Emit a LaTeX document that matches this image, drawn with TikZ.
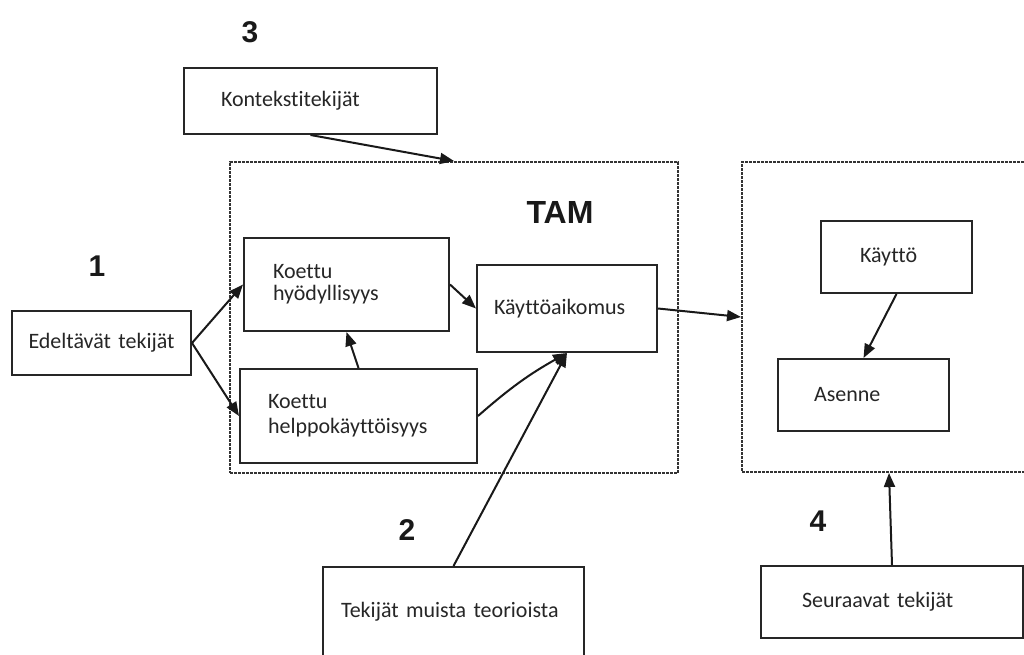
\documentclass[tikz,border=0pt]{standalone}
\usepackage{fontspec}
\setmainfont{Carlito}[Ligatures=CommonOff]
\newfontfamily\headfont{Liberation Sans}
\usetikzlibrary{arrows.meta}
\begin{document}
\begin{tikzpicture}[x=1pt,y=-1pt,
  box/.style={draw=black!85, line width=2pt, rectangle, align=left,
    font=\fontsize{22}{22}\selectfont, text=black!85, inner ysep=0pt},
  frame/.style={draw=black!80, line width=2pt, dash pattern=on 3pt off 1pt,
    rectangle, inner sep=0pt},
  arr/.style={draw=black!90, line width=2pt, -{Triangle[length=14pt,width=11pt]}},
  num/.style={font=\headfont\bfseries\fontsize{30}{30}\selectfont, text=black!90},
]
\useasboundingbox (0,0) rectangle (1024,655);

% dotted frames
\node[frame, minimum width=448pt, minimum height=311pt] (tam) at (454,317.5) {};
\node[frame, minimum width=294pt, minimum height=310pt] (sec) at (889,317) {};
\node[font=\headfont\bfseries\fontsize{32}{32}\selectfont, text=black!90] (tamlabel) at (560,212) {TAM};

% numbers
\node[num] (n3) at (250,32) {3};
\node[num] (n1) at (97,266) {1};
\node[num] (n2) at (407,530) {2};
\node[num] (n4) at (818,521) {4};

% boxes
\node[box, text width=179pt, inner xsep=37pt, minimum height=66pt] (kont) at (310.5,101) {Kontekstitekijät};
\node[box, text width=179pt, inner xsep=0pt, align=center, minimum height=64pt] (edel) at (101.5,343) {Edeltävät tekijät};
\node[box, text width=147pt, inner xsep=29pt, minimum height=93pt] (hyod) at (346.5,284.5) {Koettu\\hyödyllisyys};
\node[box, text width=146pt, inner xsep=17pt, minimum height=87pt] (kay) at (567,308.5) {Käyttöaikomus};
\node[box, text width=181pt, inner xsep=28pt, minimum height=94pt, font=\fontsize{22}{25}\selectfont] (helppo) at (358.5,416) {Koettu\\helppokäyttöisyys};
\node[box, text width=73pt, inner xsep=39pt, minimum height=72pt] (kaytto) at (896.5,257) {Käyttö};
\node[box, text width=99pt, inner xsep=36pt, minimum height=72pt] (asenne) at (863.5,395) {Asenne};
\node[box, anchor=north west, text width=225pt, inner xsep=18pt, inner ysep=34pt,
  text height=16pt, text depth=90pt] (tekm) at (322,566) {Tekijät muista teorioista};
\node[box, text width=180pt, inner xsep=41pt, minimum height=72pt] (seur) at (892,602) {Seuraavat tekijät};

% connectors
\draw[arr] (kont.south) -- (tam.north);
\draw[arr] (edel.east) -- (hyod.west);
\draw[arr] (edel.east) -- (helppo.west);
\draw[arr] (helppo.north) -- (hyod.south);
\draw[arr] (hyod.east) -- (kay.west);
\draw[arr] (helppo.east) to[bend left=6] (kay.south);
\draw[arr] (tekm.north) -- (kay.south);
\draw[arr] (kay.east) -- (sec.west);
\draw[arr] (kaytto.south) -- (asenne.north);
\draw[arr] (seur.north) -- (sec.south);
\end{tikzpicture}
\end{document}
